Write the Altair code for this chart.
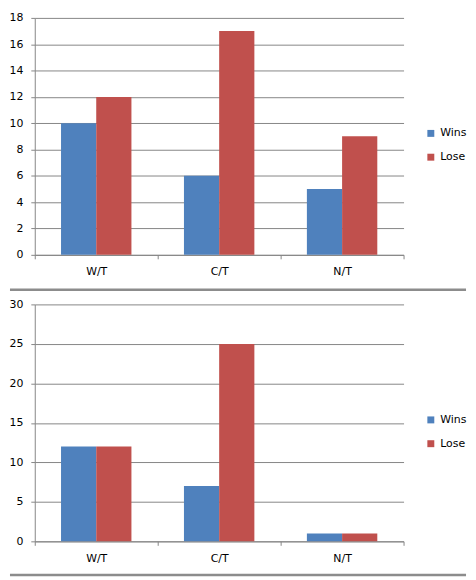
import altair as alt
import pandas as pd

categories = ["W/T", "C/T", "N/T"]
series = ["Wins", "Lose"]
wins_top = [10, 6, 5]
lose_top = [12, 17, 9]
wins_bottom = [12, 7, 1]
lose_bottom = [12, 25, 1]
ticks_top = [0, 2, 4, 6, 8, 10, 12, 14, 16, 18]
ticks_bottom = [0, 5, 10, 15, 20, 25, 30]
colors = ["#4F81BD", "#C0504D"]

GRID = "#868686"
SEP = "#8c8c8c"
FONT = "DejaVu Sans"


def long_table(w, l):
    rows = []
    for c, a, b in zip(categories, w, l):
        rows.append({"cat": c, "series": "Wins", "value": a})
        rows.append({"cat": c, "series": "Lose", "value": b})
    return pd.DataFrame(rows)


def panel(df, ymax, ticks, sep_y):
    bars = alt.Chart(df).mark_bar().encode(
        x=alt.X(
            "cat:N",
            sort=categories,
            scale=alt.Scale(paddingInner=0, paddingOuter=0),
            axis=alt.Axis(
                title=None, labelAngle=0, tickBand="extent", tickSize=4,
                domainColor=GRID, tickColor=GRID, labelPadding=7,
                labelFont=FONT, labelFontSize=11, labelColor="#000",
                grid=False,
            ),
        ),
        xOffset=alt.XOffset(
            "series:N", sort=series,
            scale=alt.Scale(paddingOuter=0.746, paddingInner=0),
        ),
        y=alt.Y(
            "value:Q",
            scale=alt.Scale(domain=[0, ymax], nice=False),
            axis=alt.Axis(
                title=None, values=ticks, grid=True, gridColor=GRID,
                domainColor=GRID, tickColor=GRID, tickSize=4, labelPadding=8,
                minExtent=25, maxExtent=25, labelFont=FONT, labelFontSize=11,
                labelColor="#000",
            ),
        ),
        color=alt.Color(
            "series:N",
            sort=series,
            scale=alt.Scale(domain=series, range=colors),
            legend=alt.Legend(
                title=None, orient="none", legendX=394, legendY=111,
                symbolType="square", symbolSize=49, symbolStrokeWidth=0,
                labelFont=FONT, labelFontSize=11, labelColor="#000",
                rowPadding=12, labelOffset=4,
            ),
        ),
    )
    sep = alt.Chart(pd.DataFrame({"k": [0]})).mark_rule(
        color=SEP, strokeWidth=2.5
    ).encode(x=alt.value(-25), x2=alt.value(435), y=alt.value(sep_y))
    return alt.layer(bars, sep).properties(width=372, height=239)


top = panel(long_table(wins_top, lose_top), 18, ticks_top, 274.3)
bottom = panel(long_table(wins_bottom, lose_bottom), 30, ticks_bottom, 273)

chart = (
    alt.vconcat(top, bottom, spacing=50, bounds="flush")
    .resolve_scale(color="independent")
    .resolve_legend(color="independent")
    .properties(padding={"top": 1.5, "left": 0, "right": 0, "bottom": 0})
    .configure_view(strokeWidth=0)
)

chart.save("out.html", embed_options={"renderer": "svg", "actions": False})
